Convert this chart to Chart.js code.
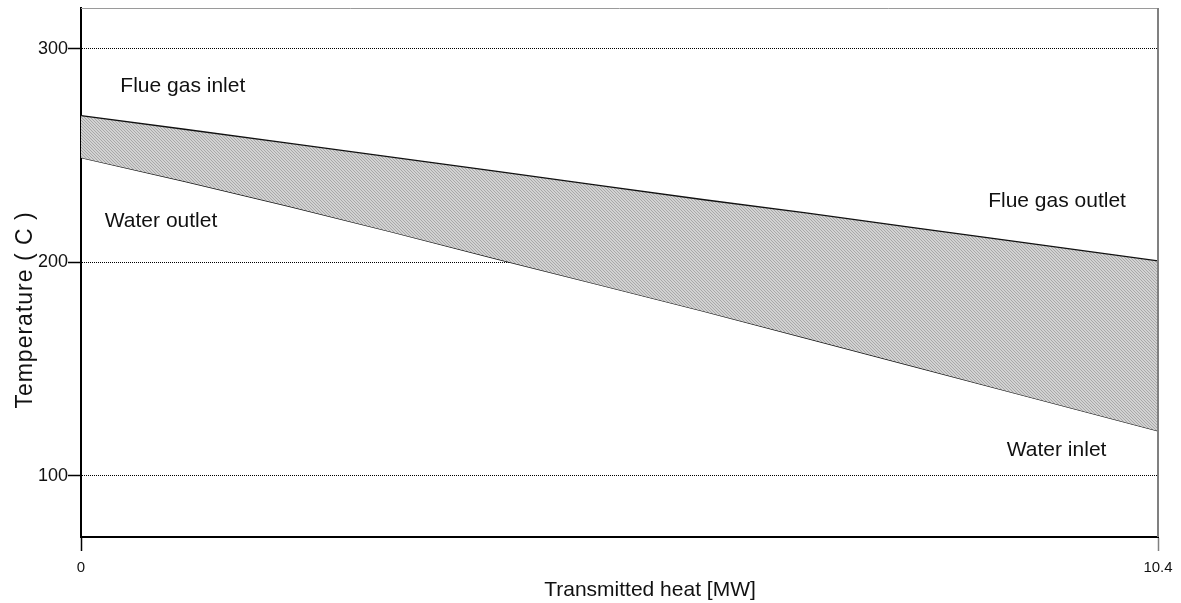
<!DOCTYPE html>
<html>
<head>
<meta charset="utf-8">
<title>Transmitted heat vs temperature</title>
<script src="https://cdn.jsdelivr.net/npm/chart.js@4.4.1/dist/chart.umd.min.js"></script>
<style>
  html, body { margin: 0; padding: 0; background: #fff; }
  canvas { display: block; }
</style>
</head>
<body>
<canvas id="heatChart" width="1181" height="603"></canvas>
<script>
// === Values ===
const heatMW      = [0, 1, 2, 3, 4, 5, 6, 7, 8, 9, 10.4];
const flueGasTemp = [268.8, 262.4, 255.9, 249.3, 242.8, 236.1, 229.5, 223.2, 216.6, 210.0, 200.7];
const waterTemp   = [249.1, 238.0, 226.4, 214.3, 201.8, 189.6, 177.3, 164.6, 151.8, 139.0, 121.1];

const xTicks = [0, 10.4];
const yTicks = [100, 200, 300];

// in-plot labels (left edge / baseline, in data units)
const noteText = ["Flue gas inlet", "Water outlet", "Flue gas outlet", "Water inlet"];
const noteHeat = [0.38, 0.23, 8.76, 8.94];
const noteTemp = [280, 216.8, 226.1, 109.2];

const FONT = "'Liberation Sans', Arial, Helvetica, sans-serif";

// === Grey hatch used between the two curves ===
function makeHatch() {
  const c = document.createElement("canvas");
  c.width = 3;
  c.height = 3;
  const g = c.getContext("2d");
  g.fillStyle = "#d2d2d2";
  g.fillRect(0, 0, 3, 3);
  g.fillStyle = "#a8a8a8";
  for (let i = 0; i < 3; i++) g.fillRect(i, i, 1, 1);
  return g.createPattern(c, "repeat");
}

const toPoints = (xs, ys) => xs.map((x, i) => ({ x, y: ys[i] }));

// === Frame edges, notes and axis titles ===
const textLayer = {
  id: "textLayer",
  afterDraw(chart) {
    const { ctx, chartArea: a, scales: { x, y } } = chart;
    ctx.save();

    // top + right frame edges are grey
    ctx.strokeStyle = "#9a9a9a";
    ctx.lineWidth = 1;
    ctx.beginPath();
    ctx.moveTo(a.left, a.top + 0.5);
    ctx.lineTo(a.right, a.top + 0.5);
    ctx.stroke();
    ctx.strokeStyle = "#808080";
    ctx.lineWidth = 2;
    ctx.beginPath();
    ctx.moveTo(a.right, a.top);
    ctx.lineTo(a.right, a.bottom);
    ctx.stroke();

    ctx.fillStyle = "#111";
    ctx.font = "21px " + FONT;
    ctx.textBaseline = "alphabetic";
    ctx.textAlign = "left";
    noteText.forEach((t, i) => {
      ctx.fillText(t, x.getPixelForValue(noteHeat[i]), y.getPixelForValue(noteTemp[i]));
    });

    ctx.textAlign = "center";
    ctx.fillText("Transmitted heat [MW]", 650, 596);

    // y title is a little wider in the original
    ctx.font = "23px " + FONT;
    ctx.letterSpacing = "1px";
    ctx.translate(32, 310);
    ctx.rotate(-Math.PI / 2);
    ctx.fillText("Temperature ( C )", 0, 0);
    ctx.restore();
  }
};

const ctx = document.getElementById("heatChart").getContext("2d");

new Chart(ctx, {
  type: "line",
  data: {
    datasets: [
      {
        label: "Flue gas",
        data: toPoints(heatMW, flueGasTemp),
        borderColor: "#111",
        borderWidth: 1.3,
        backgroundColor: makeHatch(),
        fill: "+1",
        pointRadius: 0,
        tension: 0
      },
      {
        label: "Water",
        data: toPoints(heatMW, waterTemp),
        borderColor: "#111",
        borderWidth: 1.3,
        fill: false,
        pointRadius: 0,
        tension: 0
      }
    ]
  },
  options: {
    responsive: false,
    animation: false,
    layout: { padding: { top: 8, right: 23, left: 0, bottom: 0 } },
    plugins: {
      legend: { display: false },
      tooltip: { enabled: false }
    },
    scales: {
      x: {
        type: "linear",
        min: 0,
        max: 10.4,
        afterBuildTicks: s => { s.ticks = xTicks.map(v => ({ value: v })); },
        afterFit: s => {
          s.height = 66;
          s.paddingLeft = 0;
          s.paddingRight = 0;
        },
        grid: {
          drawOnChartArea: false,
          drawTicks: true,
          tickLength: 14,
          tickColor: c => (c.index === 0 ? "#000" : "#808080"),
          tickWidth: 1.5
        },
        border: { display: true, color: "#000", width: 2 },
        ticks: {
          color: "#111",
          padding: 8,
          maxRotation: 0,
          font: { size: 15, family: FONT },
          callback: v => String(v)
        }
      },
      y: {
        type: "linear",
        min: 71.4,
        max: 319.2,
        afterBuildTicks: s => { s.ticks = yTicks.map(v => ({ value: v })); },
        afterFit: s => {
          s.width = 81;
          s.paddingTop = 0;
          s.paddingBottom = 0;
        },
        grid: {
          color: "#000",
          lineWidth: 1,
          drawTicks: true,
          tickLength: 13,
          tickColor: "#000",
          tickWidth: 1.5,
          tickBorderDash: []
        },
        border: { display: true, color: "#000", width: 2, dash: [1, 1] },
        ticks: {
          color: "#111",
          padding: 0,
          font: { size: 18, family: FONT },
          callback: v => String(v)
        }
      }
    }
  },
  plugins: [textLayer]
});
</script>
</body>
</html>
